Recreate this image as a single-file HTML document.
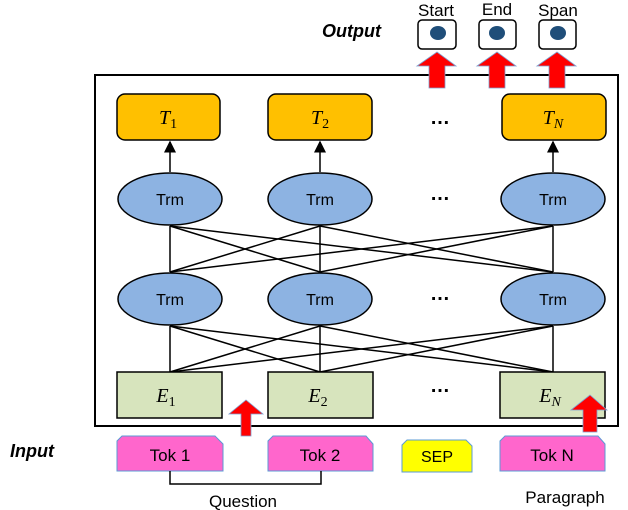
<!DOCTYPE html><html><head><style>body{margin:0;background:#fff}svg{display:block}</style></head><body>
<svg width="628" height="510" viewBox="0 0 628 510" xmlns="http://www.w3.org/2000/svg" font-family="Liberation Sans, sans-serif">
<defs><marker id="a" markerWidth="8" markerHeight="8" refX="7" refY="4" orient="auto"><path d="M0,0L8,4L0,8z" fill="#000"/></marker></defs>
<rect x="95" y="75" width="523" height="351" fill="none" stroke="#000" stroke-width="2"/>
<g stroke="#000" stroke-width="1.5">
<line x1="170" y1="372" x2="170" y2="326"/><line x1="170" y1="372" x2="320" y2="326"/><line x1="170" y1="372" x2="553" y2="326"/>
<line x1="320" y1="372" x2="170" y2="326"/><line x1="320" y1="372" x2="320" y2="326"/><line x1="320" y1="372" x2="553" y2="326"/>
<line x1="553" y1="372" x2="170" y2="326"/><line x1="553" y1="372" x2="320" y2="326"/><line x1="553" y1="372" x2="553" y2="326"/>
<line x1="170" y1="272" x2="170" y2="226"/><line x1="170" y1="272" x2="320" y2="226"/><line x1="170" y1="272" x2="553" y2="226"/>
<line x1="320" y1="272" x2="170" y2="226"/><line x1="320" y1="272" x2="320" y2="226"/><line x1="320" y1="272" x2="553" y2="226"/>
<line x1="553" y1="272" x2="170" y2="226"/><line x1="553" y1="272" x2="320" y2="226"/><line x1="553" y1="272" x2="553" y2="226"/>
<line x1="170" y1="172" x2="170" y2="142" marker-end="url(#a)"/><line x1="320" y1="172" x2="320" y2="142" marker-end="url(#a)"/><line x1="553" y1="172" x2="553" y2="142" marker-end="url(#a)"/>
</g>
<g fill="#FFC000" stroke="#000" stroke-width="1.5">
<rect x="117" y="94" width="103" height="46" rx="8"/><rect x="268" y="94" width="104" height="46" rx="8"/><rect x="502" y="94" width="104" height="46" rx="8"/>
</g>
<g font-family="Liberation Serif, serif" font-style="italic" font-size="20" text-anchor="middle">
<text x="168" y="124">T<tspan font-size="14" font-style="normal" dy="4">1</tspan></text>
<text x="320" y="124">T<tspan font-size="14" font-style="normal" dy="4">2</tspan></text>
<text x="553" y="124">T<tspan font-size="14" dy="4">N</tspan></text>
</g>
<g fill="#8DB3E2" stroke="#000" stroke-width="1.5">
<ellipse cx="170" cy="199" rx="52" ry="26"/><ellipse cx="320" cy="199" rx="52" ry="26"/><ellipse cx="553" cy="199" rx="52" ry="26"/>
<ellipse cx="170" cy="299" rx="52" ry="26"/><ellipse cx="320" cy="299" rx="52" ry="26"/><ellipse cx="553" cy="299" rx="52" ry="26"/>
</g>
<g font-size="16" text-anchor="middle">
<text x="170" y="205">Trm</text><text x="320" y="205">Trm</text><text x="553" y="205">Trm</text>
<text x="170" y="305">Trm</text><text x="320" y="305">Trm</text><text x="553" y="305">Trm</text>
</g>
<g font-size="20" font-weight="bold" text-anchor="middle">
<text x="440" y="124">…</text><text x="440" y="200">…</text><text x="440" y="300">…</text><text x="440" y="392">…</text>
</g>
<g fill="#D7E4BD" stroke="#000" stroke-width="1.5">
<rect x="117" y="372" width="105" height="46"/><rect x="268" y="372" width="105" height="46"/><rect x="500" y="372" width="105" height="46"/>
</g>
<g font-family="Liberation Serif, serif" font-style="italic" font-size="20" text-anchor="middle">
<text x="166" y="402">E<tspan font-size="14" font-style="normal" dy="4">1</tspan></text>
<text x="318" y="402">E<tspan font-size="14" font-style="normal" dy="4">2</tspan></text>
<text x="550" y="402">E<tspan font-size="14" dy="4">N</tspan></text>
</g>
<g fill="#FF0000" stroke="#7f9fcf" stroke-width="0.8">
<path d="M241,436V414H229L246,400L263,414H251V436Z"/>
<path d="M583,432V410H571L590,395L607,410H597V432Z"/>
<path d="M429,88V66H417L437,52L456,66H445V88Z"/>
<path d="M489,88V66H477L497,52L516,66H505V88Z"/>
<path d="M549,88V66H537L557,52L576,66H565V88Z"/>
</g>
<g fill="#fff" stroke="#000" stroke-width="1.5">
<rect x="418" y="20" width="38" height="29" rx="4"/><rect x="479" y="20" width="37" height="29" rx="4"/><rect x="539" y="20" width="37" height="29" rx="4"/>
</g>
<g fill="#1F4E79"><ellipse cx="438" cy="33" rx="8" ry="7"/><ellipse cx="497" cy="33" rx="8" ry="7"/><ellipse cx="558" cy="33" rx="8" ry="7"/></g>
<g font-size="17" text-anchor="middle"><text x="436" y="16">Start</text><text x="497" y="15">End</text><text x="558" y="16">Span</text></g>
<text x="322" y="37" font-size="18" font-weight="bold" font-style="italic">Output</text>
<text x="10" y="457" font-size="18" font-weight="bold" font-style="italic">Input</text>
<g fill="#FF66CC" stroke="#5b9bd5">
<path d="M122,436H215L223,444V471H117V441Z"/><path d="M273,436H366L373,444V471H268V441Z"/><path d="M505,436H598L605,444V471H500V441Z"/>
</g>
<path d="M407,440H466L472,446V472H402V445Z" fill="#FFFF00" stroke="#5b9bd5"/>
<g font-size="17" text-anchor="middle"><text x="170" y="461">Tok 1</text><text x="320" y="461">Tok 2</text><text x="552" y="461">Tok N</text><text x="437" y="462" font-size="16">SEP</text>
<text x="243" y="507">Question</text><text x="565" y="503">Paragraph</text></g>
<path d="M170,471V484H321V471" fill="none" stroke="#000" stroke-width="1.5"/>
</svg></body></html>
